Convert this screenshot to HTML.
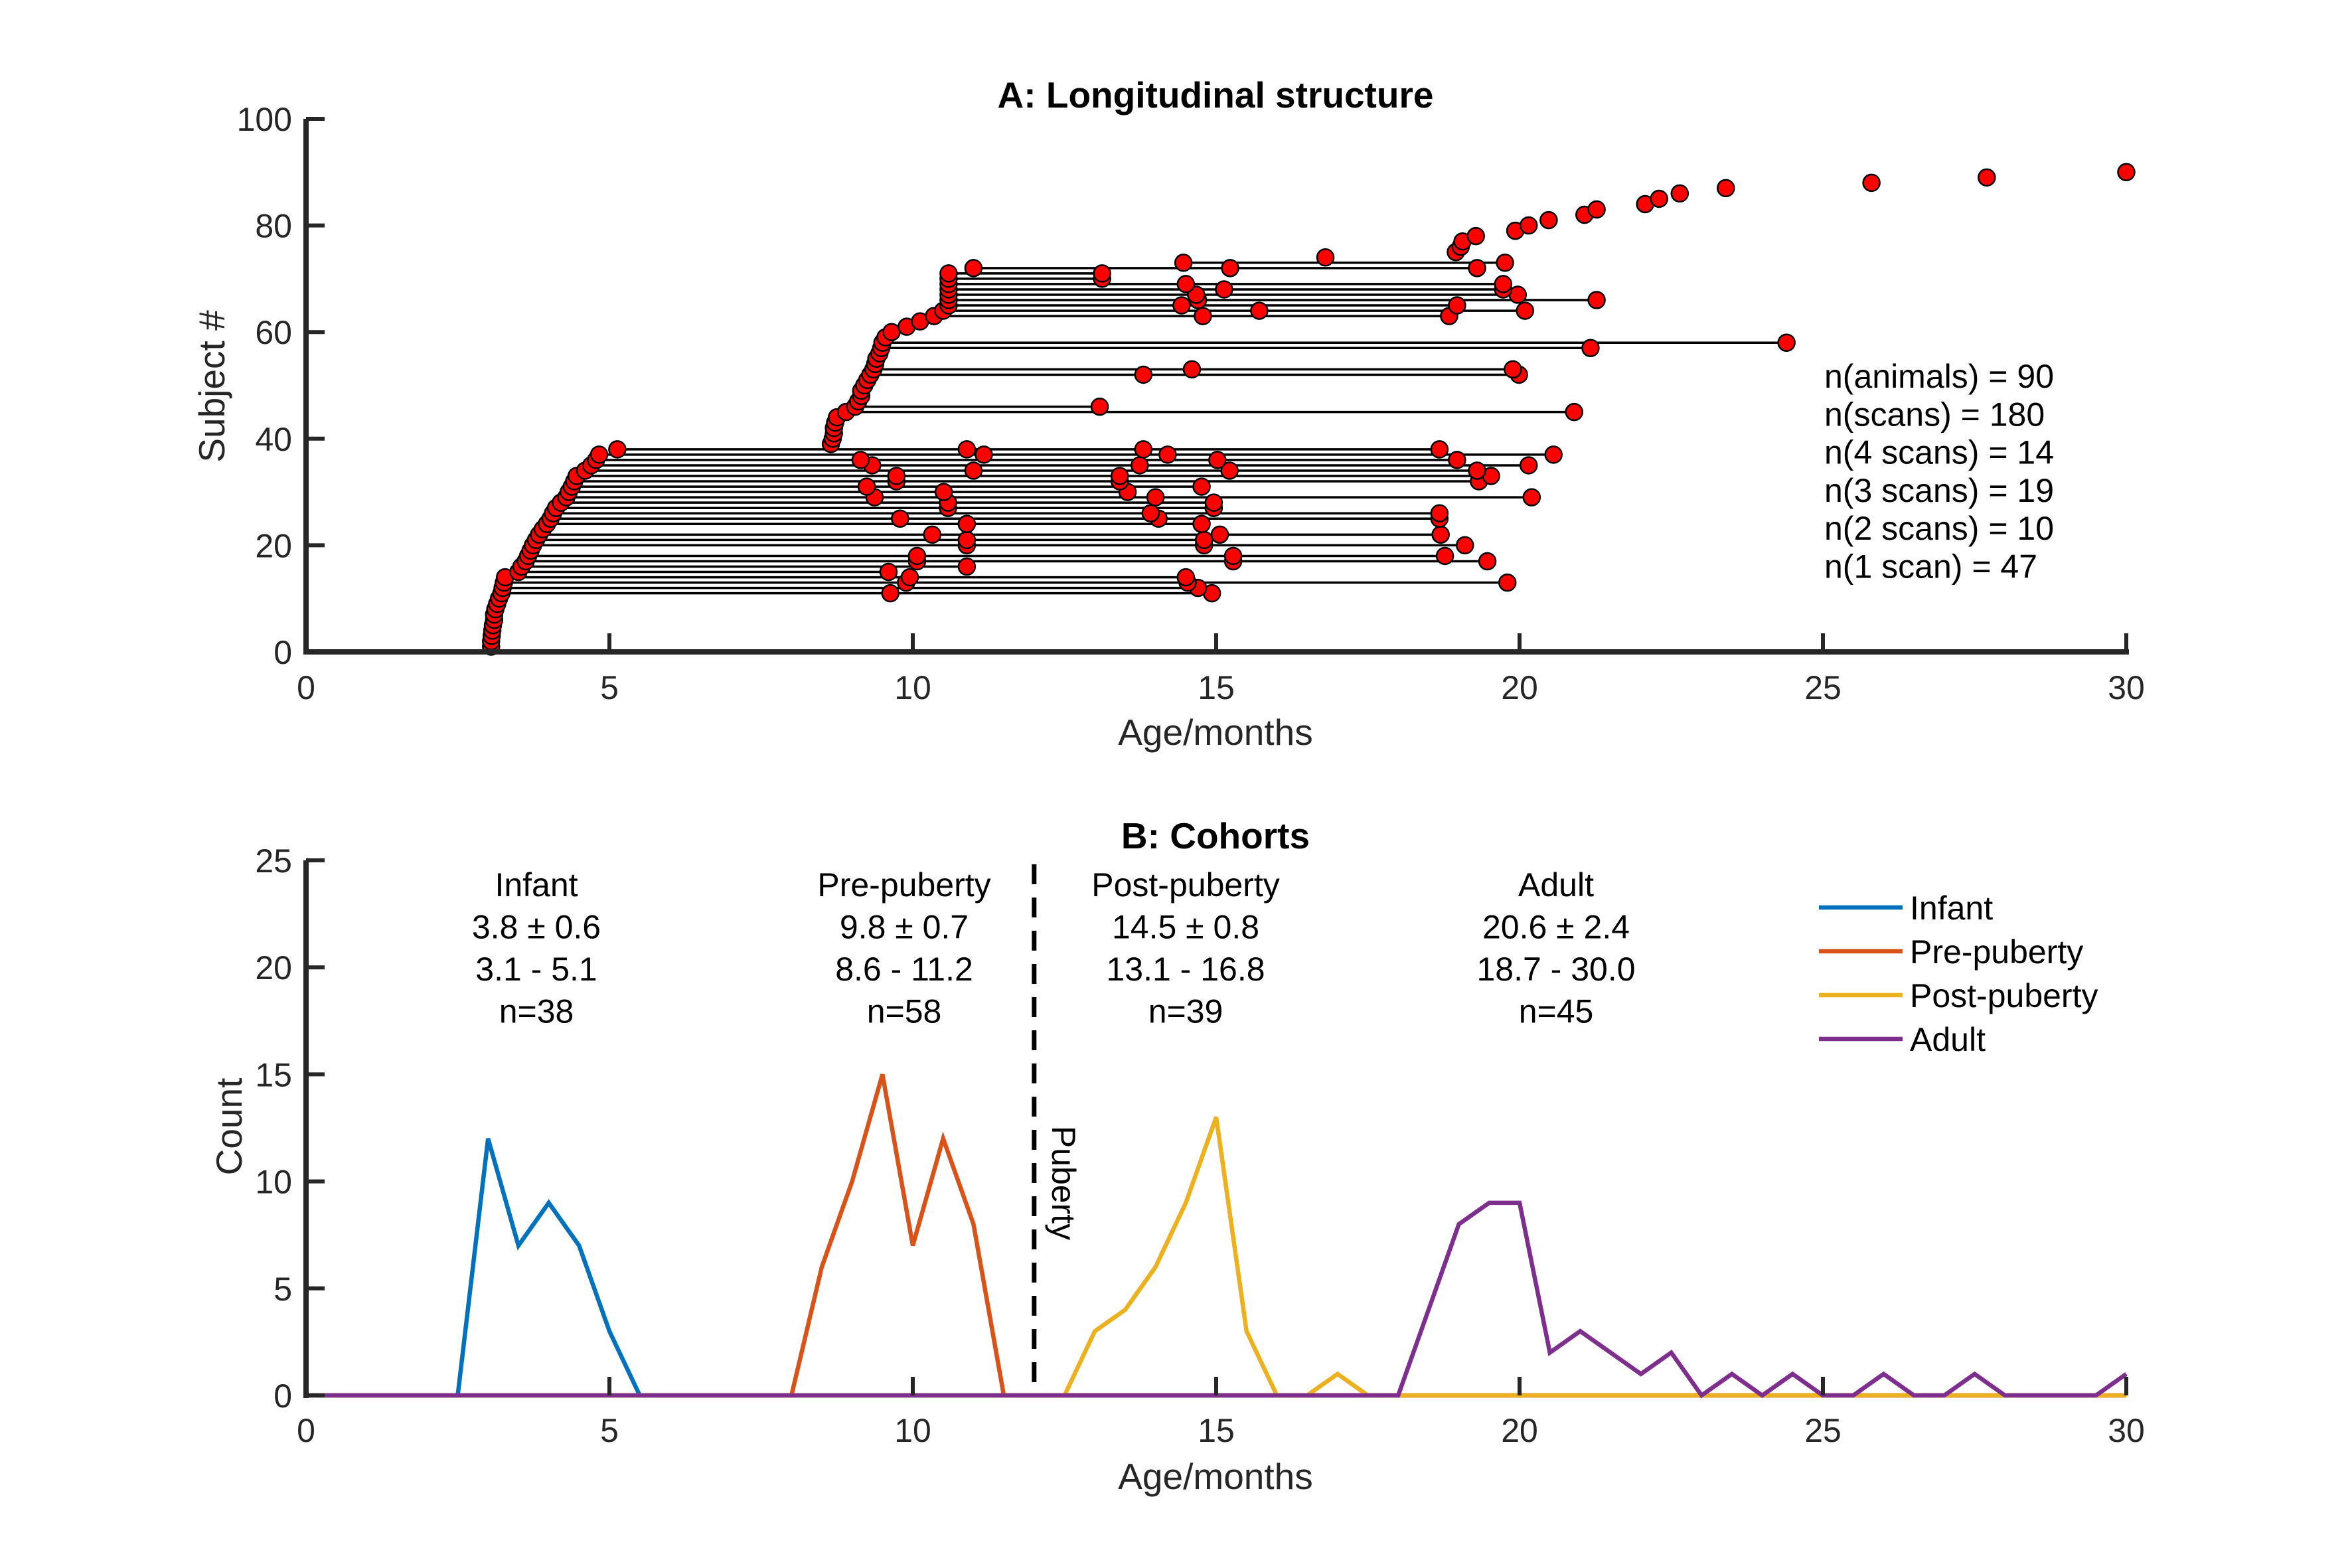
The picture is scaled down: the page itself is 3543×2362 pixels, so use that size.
<!DOCTYPE html>
<html><head><meta charset="utf-8"><style>
html,body{margin:0;padding:0;background:#fff;}
svg{display:block;font-family:"Liberation Sans",Arial,sans-serif;}
</style></head><body>
<svg id="fig" width="3543" height="2362" viewBox="0 0 3543 2362" xmlns="http://www.w3.org/2000/svg">
<g id="panelA"></g>
<g id="panelB"></g>
</svg>
<script>
// ---- Panel A data ----
const firstAge = [3.05,3.05,3.06,3.07,3.08,3.1,3.1,3.12,3.15,3.18,
3.22,3.24,3.26,3.28,3.5,3.55,3.62,3.66,3.7,3.74,3.79,3.84,3.9,3.97,4.03,4.07,4.12,4.2,4.29,4.33,4.38,4.42,4.46,4.6,4.7,4.78,4.83,5.13,
8.65,8.68,8.7,8.7,8.72,8.75,8.9,9.05,9.1,9.15,9.15,9.2,9.25,9.3,9.35,9.38,9.4,9.45,9.48,9.5,9.55,9.65,9.9,10.12,10.35,10.5,10.59,10.59,10.59,10.59,10.59,10.59,10.59,11.0,
14.46,16.8,18.95,19.03,19.06,19.28,19.93,20.15,20.48,21.07,21.27,22.07,22.3,22.64,23.4,25.8,27.7,30.0];
const laterScans = {
11:[9.63,14.93],12:[14.7],13:[9.89,14.53,19.8],14:[9.95,14.5],15:[9.6],16:[10.89],
17:[10.07,15.28,19.47],18:[10.07,15.28,18.77],20:[10.89,14.8,19.1],21:[10.89,14.8],
22:[10.32,15.06,18.7],24:[10.89,14.76],25:[9.79,14.05,18.68],26:[13.92,18.68],
27:[10.58,14.96],28:[10.58,14.96],29:[9.37,14.0,20.2],30:[10.51,13.54],31:[9.24,14.76],
32:[9.73,13.41,19.33],33:[9.73,13.41,19.53],34:[11.0,15.22,19.3],35:[9.33,13.74,20.15],
36:[9.14,15.02,18.97],37:[11.17,14.2,20.56],38:[10.89,13.8,18.68],
45:[20.9],46:[13.08],52:[13.8,19.99],53:[14.6,19.89],57:[21.17],58:[24.4],
63:[14.78,18.84],64:[15.71,20.09],65:[14.43,18.97],66:[14.7,21.27],67:[14.67,19.97],
68:[15.13,19.73],69:[14.5,19.73],70:[13.12],71:[13.12],72:[15.23,19.3],73:[19.76]};
const statLines = ["n(animals) = 90","n(scans) = 180","n(4 scans) = 14","n(3 scans) = 19","n(2 scans) = 10","n(1 scan) = 47"];
const xTicks = [0,5,10,15,20,25,30];
const yTicksA = [0,20,40,60,80,100];

// ---- Panel B data ----
const binCenters = [];
for (let i=0;i<=60;i++) binCenters.push(i*0.5);
const infantCounts = [0,0,0,0,0,0,12,7,9,7,3,0,0,0,0,0,0,0,0,0,0,0,0,0,0,0,0,0,0,0,0,0,0,0,0,0,0,0,0,0,0,0,0,0,0,0,0,0,0,0,0,0,0,0,0,0,0,0,0,0,0];
const preCounts = [0,0,0,0,0,0,0,0,0,0,0,0,0,0,0,0,0,6,10,15,7,12,8,0,0,0,0,0,0,0,0,0,0,0,0,0,0,0,0,0,0,0,0,0,0,0,0,0,0,0,0,0,0,0,0,0,0,0,0,0,0];
const postCounts = [0,0,0,0,0,0,0,0,0,0,0,0,0,0,0,0,0,0,0,0,0,0,0,0,0,0,3,4,6,9,13,3,0,0,1,0,0,0,0,0,0,0,0,0,0,0,0,0,0,0,0,0,0,0,0,0,0,0,0,0,0];
const adultCounts = [0,0,0,0,0,0,0,0,0,0,0,0,0,0,0,0,0,0,0,0,0,0,0,0,0,0,0,0,0,0,0,0,0,0,0,0,0,4,8,9,9,2,3,2,1,2,0,1,0,1,0,0,1,0,0,1,0,0,0,0,1];
const yTicksB = [0,5,10,15,20,25];
const cohortNames = ["Infant","Pre-puberty","Post-puberty","Adult"];
const cohortMean = ["3.8 \u00b1 0.6","9.8 \u00b1 0.7","14.5 \u00b1 0.8","20.6 \u00b1 2.4"];
const cohortRange = ["3.1 - 5.1","8.6 - 11.2","13.1 - 16.8","18.7 - 30.0"];
const cohortN = ["n=38","n=58","n=39","n=45"];
const colors = ["#0072BD","#D95319","#EDB120","#7E2F8E"];

const NS="http://www.w3.org/2000/svg";
function mk(parent,tag,attrs,text){const e=document.createElementNS(NS,tag);for(const k in attrs)e.setAttribute(k,attrs[k]);if(text!==undefined)e.textContent=text;parent.appendChild(e);return e;}
const X0=461, XS=91.4;
const xPos = a => X0 + a*XS;
const yA = s => 982 - s*8.03;
const yB = c => 2102 - c*32.24;
const AX="#262626";
const FS=50, FT=55;

// ===== Panel A =====
const A=document.getElementById('panelA');
for (const s in laterScans){
  const sc=laterScans[s]; const mx=Math.max(...sc);
  const l=mk(A,'line',{x1:xPos(firstAge[s-1]),x2:xPos(mx),y1:yA(+s),y2:yA(+s),stroke:'#000','stroke-width':3.5});
  
  
}
for (let i=0;i<firstAge.length;i++){
  const s=i+1; const ages=[firstAge[i]].concat(laterScans[s]||[]);
  for (const a of ages){
    const c=mk(A,'circle',{cx:xPos(a),cy:yA(s),r:12.5,fill:'#ff0000',stroke:'#000','stroke-width':2.5});
    
    
  }
}
const axA=mk(A,'g',{});


mk(axA,'line',{x1:X0,x2:X0,y1:yA(100),y2:yA(0)+4,stroke:AX,'stroke-width':8});
mk(axA,'line',{x1:X0-4,x2:xPos(30)+4,y1:yA(0),y2:yA(0),stroke:AX,'stroke-width':8});
for (const t of xTicks){
  mk(axA,'line',{x1:xPos(t),x2:xPos(t),y1:yA(0),y2:yA(0)-28,stroke:AX,'stroke-width':6});
  const tl=mk(axA,'text',{x:xPos(t),y:1053,'font-size':FS,fill:AX,'text-anchor':'middle'},t);
  
  
}
for (const t of yTicksA){
  mk(axA,'line',{x1:X0,x2:X0+28,y1:yA(t),y2:yA(t),stroke:AX,'stroke-width':6});
  const tl=mk(axA,'text',{x:440,y:yA(t)+18,'font-size':FS,fill:AX,'text-anchor':'end'},t);
  
  
}
let t1=mk(A,'text',{x:1831,y:162,'font-size':FT,'font-weight':'bold','text-anchor':'middle'},'A: Longitudinal structure');

let t2=mk(A,'text',{x:1831,y:1122,'font-size':FT,fill:AX,'text-anchor':'middle'},'Age/months');

let t3=mk(A,'text',{x:0,y:0,'font-size':FT,fill:AX,'text-anchor':'middle',transform:'translate(338,582) rotate(-90)'},'Subject #');

statLines.forEach((s,i)=>{
  const e=mk(A,'text',{x:2748,y:584+i*57.3,'font-size':FS,fill:'#000'},s);
  
  
});

// ===== Panel B =====
const B=document.getElementById('panelB');
const series=[infantCounts,preCounts,postCounts,adultCounts];
series.forEach((arr,k)=>{
  const pts=arr.map((v,i)=>xPos(binCenters[i])+','+yB(v)).join(' ');
  const p=mk(B,'polyline',{points:pts,fill:'none',stroke:colors[k],'stroke-width':6.5,'stroke-linejoin':'miter'});
  
  
});
const axB=mk(B,'g',{});


mk(axB,'line',{x1:X0,x2:X0,y1:yB(25),y2:yB(0)+4,stroke:AX,'stroke-width':8});
for (const t of xTicks){
  mk(axB,'line',{x1:xPos(t),x2:xPos(t),y1:yB(0),y2:yB(0)-28,stroke:AX,'stroke-width':6});
  const tl=mk(axB,'text',{x:xPos(t),y:2172,'font-size':FS,fill:AX,'text-anchor':'middle'},t);
  
  
}
for (const t of yTicksB){
  mk(axB,'line',{x1:X0,x2:X0+28,y1:yB(t),y2:yB(t),stroke:AX,'stroke-width':6});
  const tl=mk(axB,'text',{x:440,y:yB(t)+18,'font-size':FS,fill:AX,'text-anchor':'end'},t);
  
  
}
const pl=mk(B,'line',{x1:xPos(12),x2:xPos(12),y1:1302,y2:yB(0),stroke:'#000','stroke-width':7,'stroke-dasharray':'30,20'});

const pt=mk(B,'text',{x:0,y:0,'font-size':FS,fill:'#000','text-anchor':'middle',transform:'translate(1585,1782) rotate(90)'},'Puberty');

const cx=[808,1362,1786,2344];
for (let k=0;k<4;k++){
  const rows=[cohortNames[k],cohortMean[k],cohortRange[k],cohortN[k]];
  rows.forEach((r,j)=>{
    const e=mk(B,'text',{x:cx[k],y:1350+j*63.5,'font-size':FS,fill:'#000','text-anchor':'middle'},r);
    
    
  });
}
let tb=mk(B,'text',{x:1831,y:1278,'font-size':FT,'font-weight':'bold','text-anchor':'middle'},'B: Cohorts');

let tb2=mk(B,'text',{x:1831,y:2243,'font-size':FT,fill:AX,'text-anchor':'middle'},'Age/months');

let tb3=mk(B,'text',{x:0,y:0,'font-size':FT,fill:AX,'text-anchor':'middle',transform:'translate(364,1697) rotate(-90)'},'Count');

const lg=mk(B,'g',{});


cohortNames.forEach((n,k)=>{
  const y=1367+k*66;
  const g=mk(lg,'g',{});
  
  
  mk(g,'line',{x1:2740,x2:2866,y1:y,y2:y,stroke:colors[k],'stroke-width':6.5});
  mk(g,'text',{x:2877,y:y+18,'font-size':FS,fill:'#000'},n);
});
</script>
</body></html>
